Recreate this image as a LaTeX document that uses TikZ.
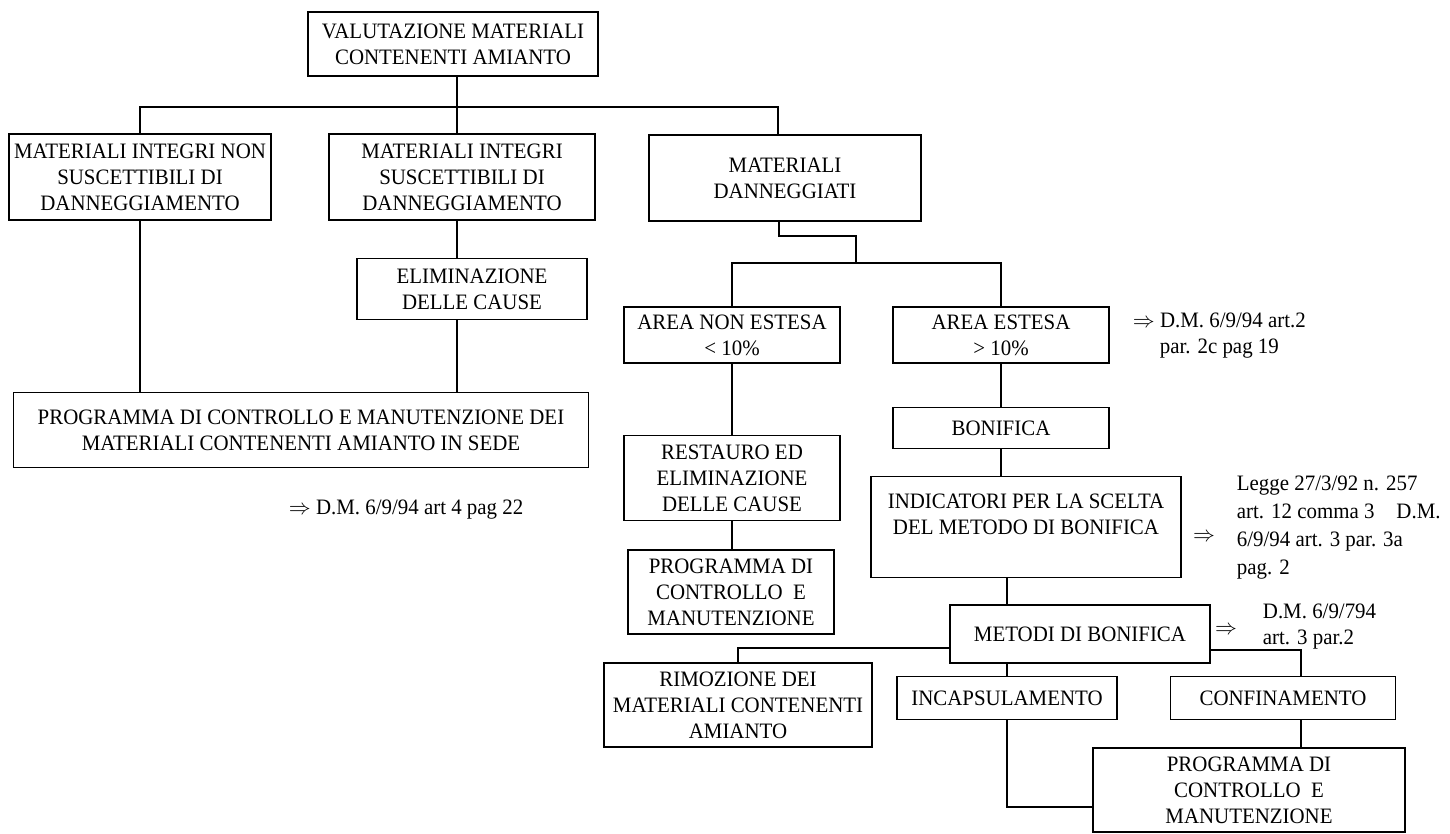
\documentclass[tikz,border=0pt]{standalone}
\usepackage{fontspec}
\setmainfont{Liberation Serif}[FakeStretch=0.95]
\begin{document}
\begin{tikzpicture}[x=0.5pt, y=-0.5pt, line width=0.9pt,
  box/.style={draw, align=center, inner sep=2pt, font=\fontsize{11}{13}\selectfont},
  refnote/.style={align=left, inner sep=0pt, font=\fontsize{11}{13}\selectfont}]
\useasboundingbox (0,0) rectangle (1450,834);

\node[box, minimum width=145pt, minimum height=32pt] (val) at (453,44) {VALUTAZIONE MATERIALI\\CONTENENTI AMIANTO};
\node[box, minimum width=131pt, minimum height=43pt] (intatti) at (140,177) {MATERIALI INTEGRI NON\\SUSCETTIBILI DI\\DANNEGGIAMENTO};
\node[box, minimum width=133pt, minimum height=43pt] (integri) at (462,177) {MATERIALI INTEGRI\\SUSCETTIBILI DI\\DANNEGGIAMENTO};
\node[box, minimum width=136pt, minimum height=43pt] (danneg) at (785,178) {MATERIALI\\DANNEGGIATI};
\node[box, minimum width=115pt, minimum height=30.5pt] (elim) at (472,289) {ELIMINAZIONE\\DELLE CAUSE};
\node[box, minimum width=287.5pt, minimum height=37.5pt] (progsede) at (301,430) {PROGRAMMA DI CONTROLLO E MANUTENZIONE DEI\\MATERIALI CONTENENTI AMIANTO IN SEDE};
\node[refnote, anchor=west] (notesede) at (288,510) {$\Rightarrow$ D.M. 6/9/94 art 4 pag 22};

\node[box, minimum width=108pt, minimum height=28pt] (nonestesa) at (732,335) {AREA NON ESTESA\\< 10\%};
\node[box, minimum width=108pt, minimum height=28pt] (estesa) at (1001,335) {AREA ESTESA\\> 10\%};
\node[refnote, align=center, anchor=west] (noteestesa) at (1132,336) {$\Rightarrow$ D.M. 6/9/94 art.2\\par. 2c pag 19};
\node[box, minimum width=108pt, minimum height=20.5pt] (bonifica) at (1001,428) {BONIFICA};
\node[box, minimum width=155pt, minimum height=50.5pt] (indicatori) at (1026,527) {INDICATORI PER LA SCELTA\\DEL METODO DI BONIFICA\\\mbox{}};
\node[refnote] (arrind) at (1204,537) {$\Rightarrow$};
\node[refnote, anchor=west, font=\fontsize{11}{14}\selectfont] (notelegge) at (1236,528) {Legge 27/3/92 n. 257\\art. 12 comma 3\quad D.M.\\6/9/94 art. 3 par. 3a\\pag. 2};
\node[box, minimum width=108pt, minimum height=42.5pt] (restauro) at (732,478) {RESTAURO ED\\ELIMINAZIONE\\DELLE CAUSE};
\node[box, minimum width=103pt, minimum height=42pt] (progcontr) at (731,592) {PROGRAMMA DI\\CONTROLLO\ \ E\\MANUTENZIONE};
\node[box, minimum width=130pt, minimum height=29pt] (metodi) at (1080,634) {METODI DI BONIFICA};
\node[refnote] (arrmet) at (1226,630) {$\Rightarrow$};
\node[refnote, anchor=west] (notemet) at (1262,627) {D.M. 6/9/794\\art. 3 par.2};
\node[box, minimum width=134pt, minimum height=42pt] (rimozione) at (738,705) {RIMOZIONE DEI\\MATERIALI CONTENENTI\\AMIANTO};
\node[box, minimum width=110pt, minimum height=21.5pt] (incaps) at (1007,698) {INCAPSULAMENTO};
\node[box, minimum width=112.5pt, minimum height=21.5pt] (confin) at (1283,698) {CONFINAMENTO};
\node[box, minimum width=156pt, minimum height=42pt] (progfin) at (1249,790) {PROGRAMMA DI\\CONTROLLO\ \ E\\MANUTENZIONE};

\coordinate (bar) at (457,107);
\coordinate (cbend) at (856,236);
\coordinate (split) at (856,263);

\draw (val.south -| bar) -- (bar) -- (bar |- integri.north);
\draw (intatti.north) |- (bar) -| ([xshift=-3.5pt]danneg.north);
\draw (intatti) -- (intatti.south |- progsede.north);
\draw (bar |- integri.south) -- (bar |- elim.north);
\draw (bar |- elim.south) -- (bar |- progsede.north);
\draw ([xshift=-3pt]danneg.south) |- (cbend) -- (split);
\draw (nonestesa.north) |- (split) -| (estesa.north);
\draw (nonestesa) -- (restauro) -- (restauro.south |- progcontr.north);
\draw (estesa) -- (bonifica) -- (bonifica.south |- indicatori.north);
\draw (incaps.north |- indicatori.south) -- (incaps.north |- metodi.north);
\draw (metodi.south -| incaps.north) -- (incaps.north);
\draw ([yshift=-7pt]metodi.west) -| (rimozione.north);
\draw ([yshift=-8pt]metodi.east) -| ([xshift=9pt]confin.north);
\draw ([xshift=9pt]confin.south) -- ([xshift=9pt]confin.south |- progfin.north);
\draw (incaps.south) |- ([yshift=-8.5pt]progfin.west);
\end{tikzpicture}
\end{document}
